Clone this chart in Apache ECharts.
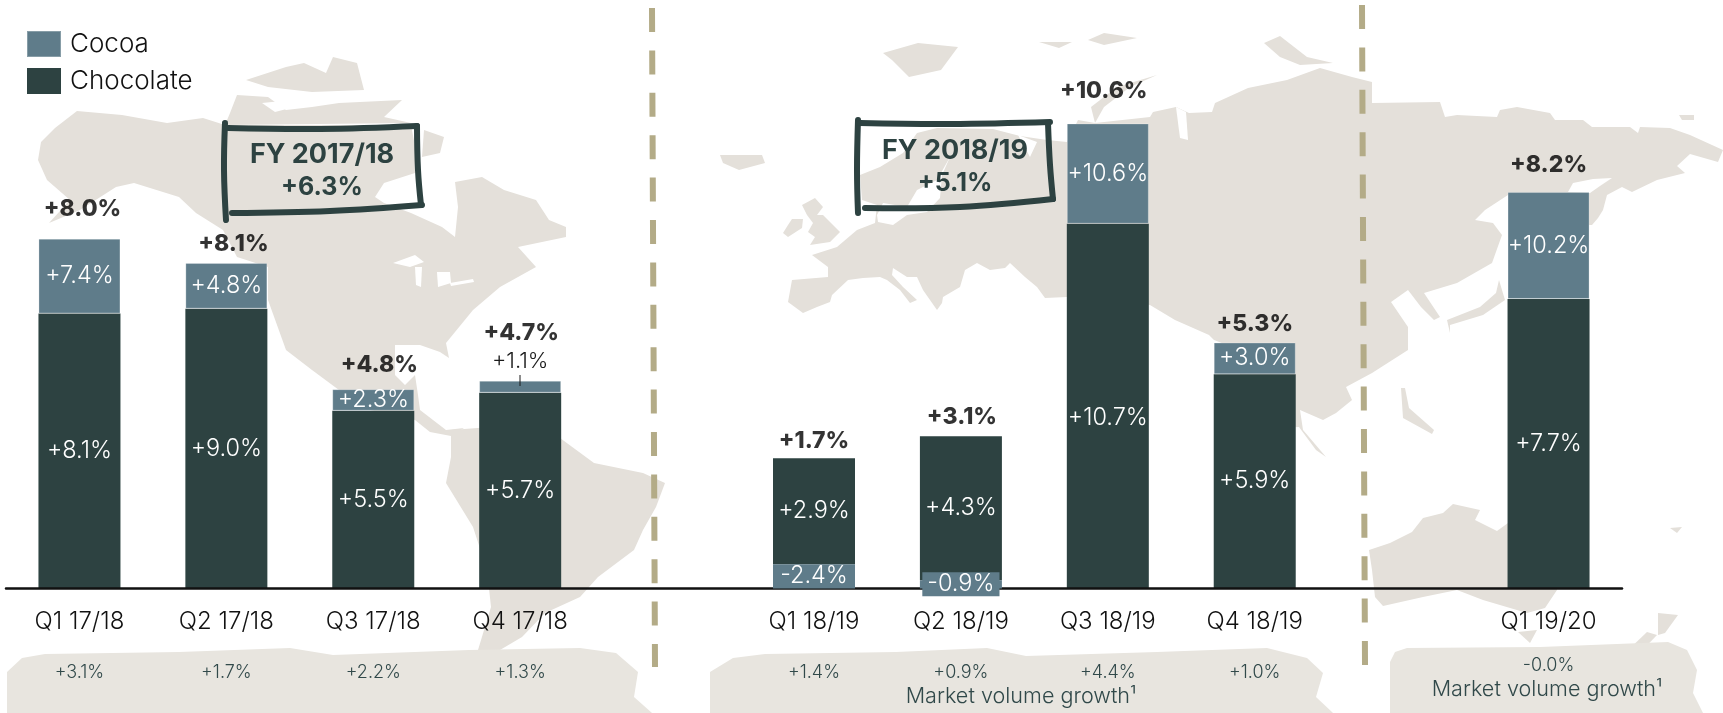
<!DOCTYPE html>
<html><head><meta charset="utf-8">
<style>html,body{margin:0;padding:0;background:#fff}#c{width:1723px;height:713px}</style>
<script src="https://cdn.jsdelivr.net/npm/echarts@6/dist/echarts.min.js"></script>
</head><body><div id="c"></div>
<script>
// ---- chart values ----
const categories = ['Q1 17/18','Q2 17/18','Q3 17/18','Q4 17/18','','Q1 18/19','Q2 18/19','Q3 18/19','Q4 18/19','','Q1 19/20'];
const chocolateBars = [6.25,6.36,4.04,4.45,null,2.41,3.27,8.29,4.87,null,6.58];
const cocoaBars = [1.70,1.04,0.49,0.27,null,null,null,2.28,0.72,null,2.43];
const cocoaDeclineBars = [null,null,null,null,null,0.55,0.19,null,null,null,null];
const chocolateLabels = ['+8.1%','+9.0%','+5.5%','+5.7%','','+2.9%','+4.3%','+10.7%','+5.9%','','+7.7%'];
const cocoaLabels = ['+7.4%','+4.8%','+2.3%','+1.1%','','-2.4%','-0.9%','+10.6%','+3.0%','','+10.2%'];
const totalLabels = ['+8.0%','+8.1%','+4.8%','+4.7%','','+1.7%','+3.1%','+10.6%','+5.3%','','+8.2%'];
const marketGrowth = ['+3.1%','+1.7%','+2.2%','+1.3%',' ','+1.4%','+0.9%','+4.4%','+1.0%','  ','-0.0%'];
const fiscalYears = [['FY 2017/18','+6.3%'],['FY 2018/19','+5.1%']];

// ---- look ----
const FONT = 'Inter';
const COCOA = '#5f7c8a', CHOC = '#2d4241', LAND = '#e4e0da', BRUSH = '#e8e5df', DASH = '#b3ab87';
const totalNudge = [[3,-16],[7,-5],[6,-10],[1,-34],[0,0],[0,-3],[1,-5],[-4,-18],[0,-4],[0,0],[0,-13]];

// ---- decorative backdrop (world map silhouette, brush strokes) in page pixels ----
const landShapes = [
 // North America
 [[41,142],[55,128],[77,111],[122,115],[167,123],[203,118],[225,125],[411,125],[417,157],[415,173],[384,183],[375,197],[384,203],[411,213],[442,227],[455,237],[458,207],[455,182],[482,177],[504,190],[536,200],[549,220],[566,227],[566,237],[518,247],[536,267],[500,287],[473,310],[446,343],[449,358],[440,352],[420,345],[395,345],[395,375],[405,385],[415,375],[418,395],[420,410],[446,430],[464,428],[451,436],[430,432],[415,420],[370,410],[339,390],[312,370],[286,350],[268,300],[268,267],[237,257],[223,230],[196,213],[179,197],[134,183],[116,187],[80,210],[49,223],[70,200],[47,180],[38,160]],
 // Arctic Canada
 [[230,113],[237,95],[268,97],[286,110],[312,107],[339,103],[402,100],[384,117],[411,123],[225,125]],
 [[246,80],[286,67],[304,63],[326,73],[333,57],[357,63],[364,90],[312,92],[268,87]],
 [[424,130],[444,137],[440,153],[422,157]],
 // South America
 [[451,430],[491,427],[560,438],[594,463],[643,473],[665,483],[656,507],[643,530],[634,550],[598,577],[580,597],[545,613],[522,637],[500,650],[478,650],[491,607],[487,570],[473,527],[446,483],[451,457]],
 // Eurasia
 [[860,175],[880,167],[903,153],[917,133],[937,128],[993,129],[1020,136],[1047,140],[1067,142],[1078,120],[1095,123],[1150,117],[1153,112],[1176,107],[1189,113],[1212,112],[1215,103],[1248,88],[1287,80],[1320,68],[1352,77],[1372,82],[1372,103],[1440,102],[1445,117],[1457,115],[1497,117],[1500,110],[1517,107],[1550,113],[1555,120],[1583,120],[1592,127],[1630,127],[1638,133],[1640,127],[1670,128],[1690,135],[1723,150],[1718,162],[1690,154],[1677,166],[1685,173],[1657,180],[1632,192],[1622,187],[1607,195],[1603,210],[1598,218],[1592,225],[1550,225],[1550,195],[1508,195],[1485,210],[1475,220],[1493,223],[1502,235],[1492,263],[1457,283],[1424,293],[1440,317],[1434,320],[1421,307],[1408,290],[1391,302],[1408,327],[1408,350],[1372,373],[1346,387],[1352,400],[1336,413],[1323,420],[1300,410],[1303,430],[1326,457],[1316,450],[1299,427],[1240,430],[1240,350],[1214,340],[1209,335],[1175,320],[1150,305],[1067,297],[1045,298],[1037,287],[1025,277],[1010,263],[1005,268],[990,270],[977,263],[965,270],[960,287],[943,297],[942,303],[937,310],[930,300],[923,290],[917,277],[907,277],[893,268],[892,275],[903,287],[917,300],[910,303],[900,290],[887,280],[880,277],[863,278],[848,280],[832,295],[830,302],[817,307],[803,313],[788,302],[792,280],[828,277],[828,267],[812,255],[837,247],[857,230],[875,223],[877,205],[862,200]],
 // Islands of the north and Europe
 [[1091,107],[1117,87],[1157,75],[1130,87],[1104,107],[1095,123]],
 [[883,53],[918,43],[958,47],[941,70],[909,77],[892,60]],
 [[1039,42],[1072,42],[1059,48]],[[1088,40],[1104,33],[1137,38],[1104,45]],
 [[1264,43],[1280,36],[1307,57],[1333,63],[1300,65],[1280,57]],
 [[1679,115],[1694,115],[1694,120],[1682,120]],
 [[720,155],[762,155],[765,163],[739,170],[723,163]],
 [[802,205],[815,198],[823,207],[817,215],[823,215],[840,232],[830,242],[810,245],[815,237],[808,232],[813,223],[807,215]],
 [[792,219],[803,219],[802,228],[788,237],[783,233],[788,225]],
 // Asia-Pacific islands
 [[1499,280],[1505,300],[1483,315],[1450,325],[1450,333],[1447,320],[1480,307],[1496,293]],
 [[1401,388],[1405,388],[1409,408],[1434,430],[1432,434],[1403,418]],
 // Australia and New Zealand
 [[1369,550],[1390,543],[1412,532],[1423,518],[1443,513],[1453,504],[1480,510],[1475,520],[1497,531],[1508,523],[1508,505],[1560,505],[1557,590],[1545,608],[1527,613],[1483,600],[1457,590],[1423,597],[1383,606],[1375,597],[1372,570]],
 [[1518,632],[1537,630],[1530,643]],
 [[1658,613],[1678,615],[1665,633],[1658,635]],
 [[1647,632],[1657,635],[1633,660],[1623,655]],
 [[1670,528],[1682,527],[1677,533]]
];
const seaShapes = [
 [[950,157],[937,180],[917,190],[907,207],[883,203],[877,215],[878,222],[893,225],[907,215],[927,212],[940,198],[942,175]],
 [[1018,135],[1037,142],[1030,157]],
 [[1176,107],[1186,112],[1188,140],[1180,138]],
 [[1568,192],[1573,183],[1593,179],[1612,178],[1600,186],[1590,193]],
 [[393,263],[415,255],[424,262],[410,267]],
 [[415,267],[422,267],[421,287],[416,285]],
 [[437,272],[450,272],[451,283],[438,287]],
 [[450,283],[473,279],[474,282],[451,286]],
 [[262,103],[312,98],[306,104],[275,112]]
];
const brushShapes = [
 [[7,672],[22,658],[45,654],[179,652],[290,648],[333,655],[469,650],[580,648],[616,653],[638,672],[634,697],[652,713],[7,713]],
 [[710,672],[733,658],[765,654],[896,652],[987,648],[1026,656],[1157,652],[1267,648],[1307,658],[1323,673],[1316,697],[1333,713],[710,713]],
 [[1390,662],[1395,652],[1407,648],[1540,647],[1668,642],[1687,650],[1697,670],[1693,693],[1703,713],[1390,713]]
];
const penStrokes = [
 [[225,123],[224,170],[226,220]],[[228,128],[320,129],[417,126]],[[417,126],[418,170],[421,205]],[[232,213],[330,211],[422,205]],
 [[858,120],[857,170],[858,213]],[[860,123],[950,124],[1050,122]],[[1048,123],[1050,165],[1053,199]],[[865,208],[960,207],[1053,199]]
];
const dividers = [[[652,8],[655,667]],[[1362,5],[1365,665]]];

const poly = (points, fill, z) => ({type:'polygon', silent:true, z, shape:{points}, style:{fill}});
const txt = (text,x,y,size,weight,fill) => ({type:'text', silent:true, z:60, x, y,
  style:{text, fontFamily:FONT, fontSize:size, fontWeight:weight, fill, align:'center', verticalAlign:'middle'}});

const graphics = [
 ...landShapes.map(p=>poly(p,LAND,-30)),
 ...seaShapes.map(p=>poly(p,'#ffffff',-29)),
 ...brushShapes.map(p=>poly(p,BRUSH,-28)),
 ...dividers.map(d=>({type:'polyline',silent:true,z:-20,shape:{points:d},style:{stroke:DASH,lineWidth:6,lineDash:[24,18.4],fill:null}})),
 ...penStrokes.map(d=>({type:'polyline',silent:true,z:50,shape:{points:d,smooth:0.4},style:{stroke:CHOC,lineWidth:6,lineCap:'round',lineJoin:'round',fill:null}})),
 txt(fiscalYears[0][0],322,155,27,700,CHOC), txt(fiscalYears[0][1],322,187,25,700,CHOC),
 txt(fiscalYears[1][0],955,151,27,700,CHOC), txt(fiscalYears[1][1],955,183,25,700,CHOC),
 txt('Market volume growth¹',1021,696,21.6,300,'#31494a'),
 txt('Market volume growth¹',1547,689,21.6,300,'#31494a'),
 {type:'line',silent:true,z:60,shape:{x1:520,y1:375,x2:520,y2:386},style:{stroke:'#1a1a1a',lineWidth:1}}
];

const inner = {show:true,position:'inside',color:'#fff',fontFamily:FONT,fontWeight:300,fontSize:23.5};
const stackTops = categories.map((_,i)=>{
  const s=(chocolateBars[i]||0)+(cocoaBars[i]||0)+(cocoaDeclineBars[i]||0);
  return s||null;
});

const option = {
 animation:false,
 backgroundColor:'#fff',
 textStyle:{fontFamily:FONT},
 graphic:{elements:graphics},
 legend:{left:21,top:25,orient:'vertical',itemWidth:34,itemHeight:26,itemGap:10,icon:'rect',
  data:['Cocoa','Chocolate'],selectedMode:false,
  textStyle:{fontFamily:FONT,fontWeight:300,fontSize:26,color:'#111',padding:[0,0,4,4]}},
 grid:{left:6,right:101,top:16.5,bottom:124.5},
 xAxis:[
  {type:'category',data:categories,position:'bottom',z:3,
   axisLine:{onZero:false,lineStyle:{color:'#111',width:2.5}},axisTick:{show:false},
   axisLabel:{interval:0,margin:21,fontFamily:FONT,fontWeight:300,fontSize:24,color:'#111'}},
  {type:'category',data:marketGrowth,position:'bottom',offset:48,
   axisLine:{show:false},axisTick:{show:false},
   axisLabel:{interval:0,margin:20,fontFamily:FONT,fontWeight:300,fontSize:18,color:'#31494a',
    formatter:(v,i)=>i===10?'{upper|'+v+'}':'{lower|'+v+'}',
    rich:{
     upper:{fontFamily:FONT,fontWeight:300,fontSize:18,color:'#31494a'},
     lower:{fontFamily:FONT,fontWeight:300,fontSize:18,color:'#31494a',padding:[7,0,0,0]}}}}
 ],
 yAxis:{type:'value',min:0,max:13,show:false},
 series:[
  {name:'Cocoa decline',type:'bar',stack:'q',z:5,barWidth:82,
   data:cocoaDeclineBars.map((v,i)=>i===6
     ?{value:v,label:{backgroundColor:COCOA,padding:[0,5,0,5]}}:v),
   itemStyle:{color:COCOA},
   label:{...inner,formatter:p=>cocoaLabels[p.dataIndex]}},
  {name:'Chocolate',type:'bar',stack:'q',barWidth:82,
   data:chocolateBars.map((v,i)=>i===7?{value:v,label:{offset:[0,12]}}:v),
   itemStyle:{color:CHOC},
   label:{...inner,formatter:p=>chocolateLabels[p.dataIndex]}},
  {name:'Cocoa',type:'bar',stack:'q',barWidth:82,
   data:cocoaBars.map((v,i)=>i===3
     ?{value:v,label:{position:'top',distance:8,color:'#1a1a1a',fontSize:22}}
     :v),
   itemStyle:{color:COCOA,borderColor:'rgba(255,255,255,0.25)',borderWidth:1},
   label:{...inner,formatter:p=>cocoaLabels[p.dataIndex]}},
  {name:'Total',type:'scatter',z:6,symbolSize:1,itemStyle:{color:'rgba(0,0,0,0)'},
   data:stackTops.map((v,i)=>({value:v,label:{offset:totalNudge[i]}})),
   label:{show:true,position:'top',distance:2,color:'#000',fontFamily:FONT,fontWeight:800,fontSize:23,
    formatter:p=>totalLabels[p.dataIndex]}}
 ]
};
const chart = echarts.init(document.getElementById('c'),null,{renderer:'canvas'});
chart.setOption(option);
</script></body></html>
